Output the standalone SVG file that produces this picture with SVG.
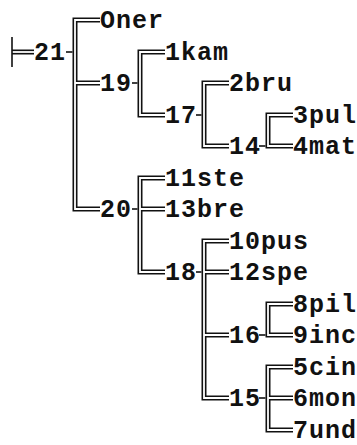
<svg xmlns="http://www.w3.org/2000/svg" width="357" height="445" viewBox="0 0 357 445">
<style>
.bg{fill:#fff}
.k{fill:none;stroke:#111;stroke-width:5;stroke-linejoin:miter}
.w{fill:none;stroke:#fff;stroke-width:1.8;stroke-linejoin:miter}
.t{fill:none;stroke:#111;stroke-width:1.6}
text{font-family:"Liberation Mono","Courier New",monospace;font-size:25px;font-weight:bold;fill:#111;letter-spacing:1px}
</style>
<rect class="bg" width="357" height="445"/>
<g id="connectors">
<g id="blacks">
<path class="k" d="M12,52 H34"/>
<path class="k" d="M100,20 H75 V209 H100 M75,83 H100"/>
<path class="k" d="M165,52 H140 V115 H165"/>
<path class="k" d="M229,83 H204 V146 H229"/>
<path class="k" d="M293,115 H268 V146 H293"/>
<path class="k" d="M165,178 H140 V272 H165 M140,209 H165"/>
<path class="k" d="M229,241 H204 V398 H229 M204,272 H229 M204,335 H229"/>
<path class="k" d="M293,304 H268 V335 H293"/>
<path class="k" d="M293,367 H268 V430 H293 M268,398 H293"/>
</g>
<g id="whites">
<path class="w" d="M12,52 H34"/>
<path class="w" d="M100,20 H75 V209 H100 M75,83 H100"/>
<path class="w" d="M165,52 H140 V115 H165"/>
<path class="w" d="M229,83 H204 V146 H229"/>
<path class="w" d="M293,115 H268 V146 H293"/>
<path class="w" d="M165,178 H140 V272 H165 M140,209 H165"/>
<path class="w" d="M229,241 H204 V398 H229 M204,272 H229 M204,335 H229"/>
<path class="w" d="M293,304 H268 V335 H293"/>
<path class="w" d="M293,367 H268 V430 H293 M268,398 H293"/>
</g>
<g id="ticks">
<path class="t" d="M12,37 V67"/>
<path class="t" d="M66,52 H72.5"/>
<path class="t" d="M132,83 H137.5"/>
<path class="t" d="M196,115 H201.5"/>
<path class="t" d="M259,146 H265.5"/>
<path class="t" d="M132,209 H137.5"/>
<path class="t" d="M196,272 H201.5"/>
<path class="t" d="M259,335 H265.5"/>
<path class="t" d="M259,398 H265.5"/>
</g>
</g>
<g id="n21"><text x="34" y="60">21</text></g>
<g id="nOner"><text x="100" y="28">Oner</text></g>
<g id="n19"><text x="100" y="91">19</text></g>
<g id="n1kam"><text x="165" y="60">1kam</text></g>
<g id="n17"><text x="165" y="123">17</text></g>
<g id="n2bru"><text x="229" y="91">2bru</text></g>
<g id="n14"><text x="229" y="154">14</text></g>
<g id="n3pul"><text x="293" y="123">3pul</text></g>
<g id="n4mat"><text x="293" y="154">4mat</text></g>
<g id="n20"><text x="100" y="217">20</text></g>
<g id="n11ste"><text x="165" y="186">11ste</text></g>
<g id="n13bre"><text x="165" y="217">13bre</text></g>
<g id="n18"><text x="165" y="280">18</text></g>
<g id="n10pus"><text x="229" y="249">10pus</text></g>
<g id="n12spe"><text x="229" y="280">12spe</text></g>
<g id="n16"><text x="229" y="343">16</text></g>
<g id="n15"><text x="229" y="406">15</text></g>
<g id="n8pil"><text x="293" y="312">8pil</text></g>
<g id="n9inc"><text x="293" y="343">9inc</text></g>
<g id="n5cin"><text x="293" y="375">5cin</text></g>
<g id="n6mon"><text x="293" y="406">6mon</text></g>
<g id="n7und"><text x="293" y="438">7und</text></g>
</svg>
